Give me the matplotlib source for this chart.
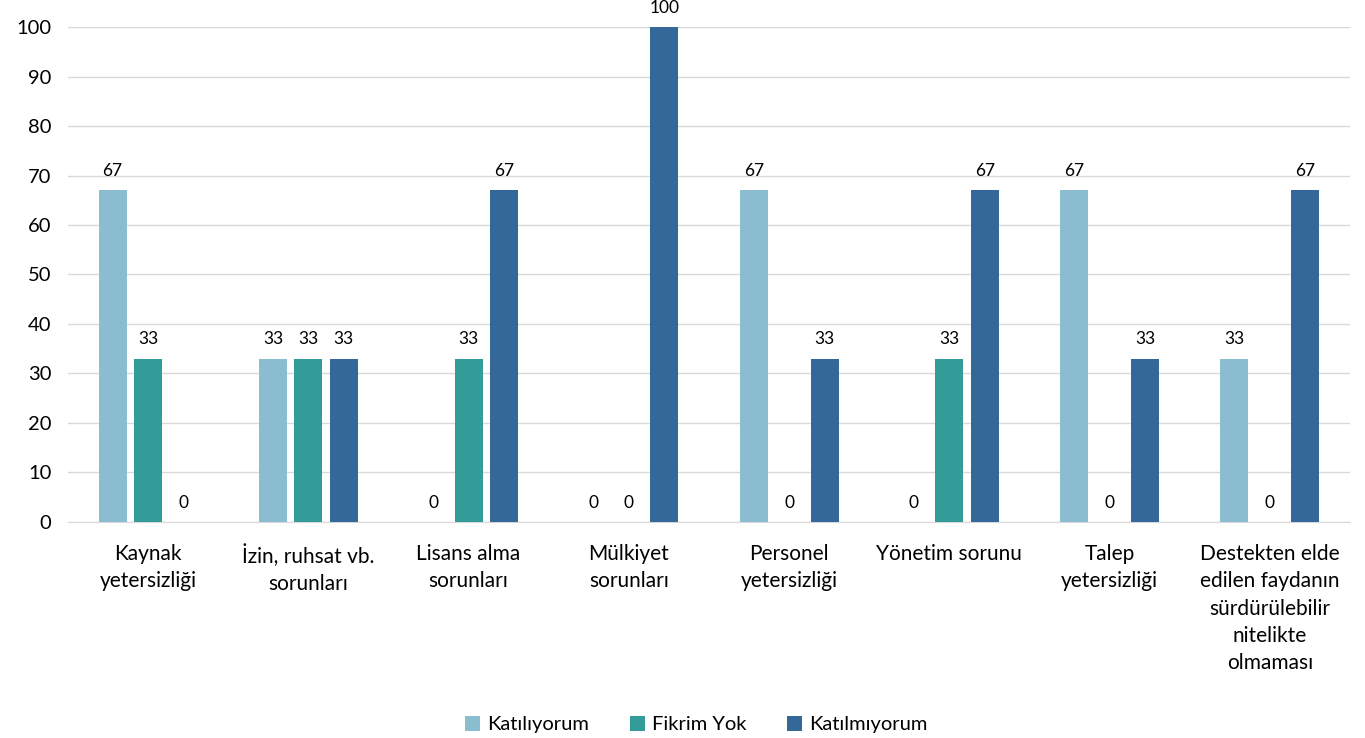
import numpy as np
import matplotlib.pyplot as plt

plt.rcParams['font.family'] = ['Lato', 'DejaVu Sans']

categories = ["Kaynak\nyetersizliği", "İzin, ruhsat vb.\nsorunları", "Lisans alma\nsorunları",
              "Mülkiyet\nsorunları", "Personel\nyetersizliği", "Yönetim sorunu",
              "Talep\nyetersizliği",
              "Destekten elde\nedilen faydanın\nsürdürülebilir\nnitelikte\nolmaması"]
katiliyorum = [67, 33, 0, 0, 67, 0, 67, 33]
fikrim_yok = [33, 33, 33, 0, 0, 33, 0, 0]
katilmiyorum = [0, 33, 67, 100, 33, 67, 33, 67]

series = [("Katılıyorum", katiliyorum, "#8BBDD0"),
          ("Fikrim Yok", fikrim_yok, "#339C99"),
          ("Katılmıyorum", katilmiyorum, "#336899")]

fig = plt.figure(figsize=(13.65, 7.38), dpi=100)
ax = fig.add_axes([0.0498, 0.2927, 0.9392, 0.6707])

x = np.arange(len(categories))
step = 0.221
width = 0.175
for i, (name, vals, col) in enumerate(series):
    pos = x + (i - 1) * step
    ax.bar(pos, vals, width=width, color=col, label=name, zorder=3)
    for p, v in zip(pos, vals):
        ax.text(p, v + 2.3, str(v), ha='center', va='bottom', fontsize=12.5, color='#000000')

ax.set_xlim(-0.5, len(categories) - 0.5)
ax.set_ylim(0, 100)
ax.set_yticks(range(0, 101, 10))
ax.yaxis.grid(True, color='#D9D9D9', lw=1)
ax.set_axisbelow(True)
for s in ['top', 'right', 'left']:
    ax.spines[s].set_visible(False)
ax.spines['bottom'].set_color('#D9D9D9')
ax.tick_params(axis='y', length=0, labelsize=14.5, pad=12)
ax.tick_params(axis='x', length=0, labelsize=15, pad=16)
ax.set_xticks(x)
ax.set_xticklabels(categories, linespacing=1.45, va='top')

fig.legend(loc='lower center', bbox_to_anchor=(0.51, -0.018), ncol=3, frameon=False,
           fontsize=14.5, handlelength=0.75, handleheight=0.75, handletextpad=0.35, columnspacing=2.0)

fig.savefig('out.png', dpi=100)
